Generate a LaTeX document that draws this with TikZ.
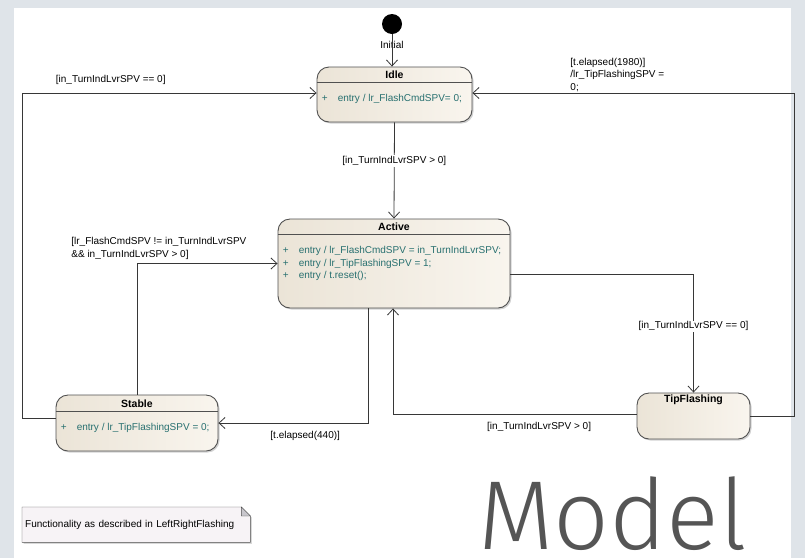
\documentclass[tikz,border=0pt]{standalone}
\usepackage{fontspec}
\setmainfont{Liberation Sans}
\newfontfamily\modelfont{Fira Sans Light}
\usetikzlibrary{positioning,arrows.meta,shadows,backgrounds}

\definecolor{slidebg}{RGB}{223,228,233}
\definecolor{stateleft}{RGB}{235,228,215}
\definecolor{stateright}{RGB}{249,245,238}
\definecolor{stateline}{RGB}{80,80,80}
\definecolor{transline}{RGB}{55,55,55}
\definecolor{entrytxt}{RGB}{40,112,112}
\definecolor{notefill}{RGB}{247,243,246}
\definecolor{notefold}{RGB}{200,198,204}
\definecolor{modelgrey}{RGB}{85,85,85}

\newcommand{\plusrow}[1]{\makebox[16pt][l]{+}#1}

\begin{document}
\begin{tikzpicture}[x=1pt,y=-1pt,font=\fontsize{10}{12.5}\selectfont,
  state/.style={draw=stateline,line width=0.9pt,rounded corners=12pt,left color=stateleft,right color=stateright,
    drop shadow={shadow xshift=1.5pt,shadow yshift=-1.5pt,opacity=0.35}},
  title/.style={font=\fontsize{10.5}{12}\selectfont\bfseries,inner sep=0pt},
  entries/.style={text=entrytxt,align=left,inner sep=0pt,anchor=west},
  guard/.style={fill=white,inner sep=1pt},
  trans/.style={draw=transline,line width=0.8pt,-{Straight Barb[length=6pt,width=11pt]}}]
\useasboundingbox (0,0) rectangle (805,558);
\begin{scope}[on background layer]
  \fill[slidebg] (0,0) rectangle (805,558);
  \fill[white] (14,8) rectangle (791,558);
\end{scope}

% states
\node[circle,fill=black,minimum size=20pt,inner sep=0pt] (init) at (392,24) {};
\node[inner sep=0pt] (initlbl) at (392,45) {Initial};
\node[state,minimum width=155pt,minimum height=55pt] (idle) at (394.5,94.5) {};
\node[state,minimum width=232pt,minimum height=89pt] (active) at (394,263.5) {};
\node[state,minimum width=162pt,minimum height=56pt] (stable) at (137,423) {};
\node[state,minimum width=113pt,minimum height=46pt] (tipflash) at (693.5,416) {};

\node[title] at ([yshift=-8.5pt]idle.north) {Idle};
\draw[stateline] ([yshift=-16pt]idle.north west) -- ([yshift=-16pt]idle.north east);
\node[entries] at ([xshift=5pt,yshift=-4.5pt]idle.west) {\plusrow{entry / lr\_FlashCmdSPV= 0;}};

\node[title] at ([yshift=-8pt]active.north) {Active};
\draw[stateline] ([yshift=-16pt]active.north west) -- ([yshift=-16pt]active.north east);
\node[entries] at ([xshift=5pt]active.west) {\plusrow{entry / lr\_FlashCmdSPV = in\_TurnIndLvrSPV;}\\
  \plusrow{entry / lr\_TipFlashingSPV = 1;}\\ \plusrow{entry / t.reset();}};

\node[title] at ([yshift=-9pt]stable.north) {Stable};
\draw[stateline] ([yshift=-17pt]stable.north west) -- ([yshift=-17pt]stable.north east);
\node[entries] at ([xshift=5pt,yshift=-5pt]stable.west) {\plusrow{entry / lr\_TipFlashingSPV = 0;}};

\node[title] at ([yshift=-7.5pt]tipflash.north) {TipFlashing};

% transitions
\draw[trans] (init) -- (init |- idle.north);
\draw[trans] (idle.south) -- node[guard,pos=0.4] {[in\_TurnIndLvrSPV > 0]} (active.north);
\draw[trans] ([yshift=-10.5pt]active.east) -| node[guard,pos=0.72] {[in\_TurnIndLvrSPV == 0]} (tipflash.north);
\draw[trans] ([yshift=2pt]tipflash.west) -| node[pos=0.2,below=5pt] {[in\_TurnIndLvrSPV > 0]} ([xshift=-1pt]active.south);
\draw[trans] (tipflash.east) -- ++(44,0) |- node[pos=0.85,anchor=south west,inner sep=1pt,align=left]
  {[t.elapsed(1980)]\\/lr\_TipFlashingSPV =\\0;} ([yshift=1.5pt]idle.east);
\draw[trans] ([xshift=-26pt]active.south) |- node[pos=0.71,below=5pt] {[t.elapsed(440)]} (stable.east);
\draw[trans] (stable.north) |- node[pos=0.5,anchor=south west,xshift=-66pt,yshift=4pt,align=left,inner sep=0pt]
  {[lr\_FlashCmdSPV != in\_TurnIndLvrSPV\\\&\& in\_TurnIndLvrSPV > 0]} (active.west);
\draw[trans] ([yshift=5pt]stable.west) -- ++(-33,0) |- node[pos=0.65,above=5pt] {[in\_TurnIndLvrSPV == 0]} ([yshift=1.5pt]idle.west);

% note and title
\node[anchor=north west,text width=222pt,minimum height=35pt,inner sep=3pt,align=left,
  font=\fontsize{10}{12}\selectfont] (note) at (22,507) {Functionality as described in LeftRightFlashing};
\begin{scope}[on background layer]
  \filldraw[draw=stateline,fill=notefill,drop shadow={shadow xshift=1.5pt,shadow yshift=-1.5pt,opacity=0.3}]
    (note.south west) |- ([xshift=-9pt]note.north east) -- ([yshift=-9pt]note.north east) |- (note.south west) -- cycle;
  \filldraw[draw=stateline,fill=notefold] ([xshift=-9pt]note.north east) |- ([yshift=-9pt]note.north east) -- cycle;
\end{scope}
\node[anchor=south west,inner sep=0pt,text=modelgrey,font=\modelfont\fontsize{98}{98}\selectfont] (model) at (478,551) {Model};
\end{tikzpicture}
\end{document}
